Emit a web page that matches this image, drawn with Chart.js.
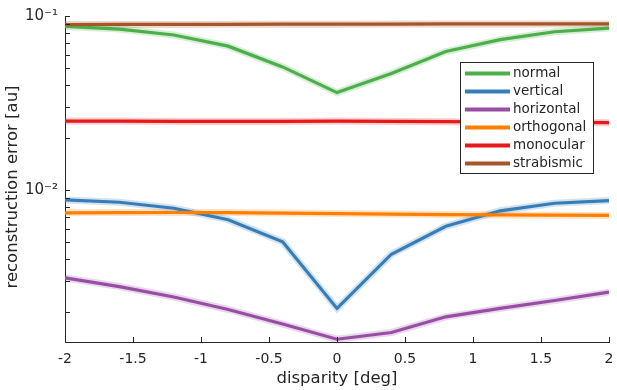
<!DOCTYPE html>
<html>
<head>
<meta charset="utf-8">
<script src="https://cdn.jsdelivr.net/npm/chart.js@4.4.0/dist/chart.umd.min.js"></script>
<style>
  html, body { margin: 0; padding: 0; background: #fff; }
  #wrap { width: 617px; height: 390px; }
</style>
</head>
<body>
<div id="wrap"><canvas id="errChart" width="617" height="390"></canvas></div>
<script>
// x positions (disparity in deg)
const disparity = [-2, -1.6, -1.2, -0.8, -0.4, 0, 0.4, 0.8, 1.2, 1.6, 2];

// reconstruction error per condition
const normal     = [0.0871, 0.0841, 0.0778, 0.0671, 0.0510, 0.0363, 0.0468, 0.0625, 0.0731, 0.0812, 0.0852];
const vertical   = [0.00878, 0.00851, 0.00786, 0.00676, 0.00505, 0.00209, 0.00428, 0.00619, 0.0076, 0.0084, 0.0087];
const horizontal = [0.00313, 0.00279, 0.00243, 0.00206, 0.00170, 0.00139, 0.00152, 0.00187, 0.00209, 0.00232, 0.00259];
const orthogonal = [0.00740, 0.00742, 0.00743, 0.00742, 0.00738, 0.00733, 0.00728, 0.00723, 0.00720, 0.00717, 0.00715];
const monocular  = [0.0249, 0.0249, 0.0248, 0.0248, 0.0248, 0.0249, 0.0248, 0.0247, 0.0246, 0.0245, 0.0244];
const strabismic = [0.0893, 0.0894, 0.0895, 0.0896, 0.0897, 0.0898, 0.0899, 0.0900, 0.0900, 0.0901, 0.0901];

const seriesNames  = ['normal', 'vertical', 'horizontal', 'orthogonal', 'monocular', 'strabismic'];
const seriesValues = [normal, vertical, horizontal, orthogonal, monocular, strabismic];
const seriesColors = ['#4daf4a', '#377eb8', '#984ea3', '#ff7f00', '#e41a1c', '#a65628'];

const xTicks = [-2, -1.5, -1, -0.5, 0, 0.5, 1, 1.5, 2];
const yMinorTicks = [0.002, 0.003, 0.004, 0.005, 0.006, 0.007, 0.008, 0.009,
                     0.02, 0.03, 0.04, 0.05, 0.06, 0.07, 0.08, 0.09];
const yMajorTicks = [0.01, 0.1];
const yMajorLabels = ['10⁻²', '10⁻¹'];
const Y_MIN = 0.00134;
const Y_MAX = 0.1;

const FONT = 'DejaVu Sans';
const INK = '#262626';

function hexToRgba(hex, a) {
  const n = parseInt(hex.slice(1), 16);
  return `rgba(${(n >> 16) & 255}, ${(n >> 8) & 255}, ${n & 255}, ${a})`;
}

// light bands under each line, then the lines themselves
const datasets = [];
seriesValues.forEach((vals, i) => {
  datasets.push({
    label: seriesNames[i] + ' band',
    data: vals.map((v, k) => ({ x: disparity[k], y: v })),
    borderColor: hexToRgba(seriesColors[i], 0.22),
    borderWidth: 7,
    pointRadius: 0,
    tension: 0,
    order: 20
  });
});
seriesValues.forEach((vals, i) => {
  datasets.push({
    label: seriesNames[i],
    data: vals.map((v, k) => ({ x: disparity[k], y: v })),
    borderColor: seriesColors[i],
    borderWidth: 3.2,
    pointRadius: 0,
    tension: 0,
    order: 10 - i
  });
});

// inward tick marks, rotated y title and the boxed legend
const decorations = {
  id: 'decorations',
  afterDraw(chart) {
    const ctx = chart.ctx;
    const xs = chart.scales.x;
    const ys = chart.scales.y;
    const area = chart.chartArea;

    ctx.save();
    ctx.strokeStyle = INK;
    ctx.lineWidth = 1;
    ctx.beginPath();
    ys.ticks.forEach(t => {
      const py = Math.round(ys.getPixelForValue(t.value)) + 0.5;
      ctx.moveTo(area.left, py);
      ctx.lineTo(area.left + 5, py);
    });
    xs.ticks.forEach(t => {
      const px = Math.round(xs.getPixelForValue(t.value)) + 0.5;
      ctx.moveTo(px, area.bottom);
      ctx.lineTo(px, area.bottom - 5);
    });
    ctx.stroke();

    // y axis title
    ctx.fillStyle = INK;
    ctx.font = `16.5px "${FONT}"`;
    ctx.textAlign = 'center';
    ctx.textBaseline = 'middle';
    ctx.translate(13, 187);
    ctx.rotate(-Math.PI / 2);
    ctx.fillText('reconstruction error [au]', 0, 0);
    ctx.restore();

    // legend
    ctx.save();
    const lx = 460, ly = 62, lw = 133, lh = 111;
    ctx.fillStyle = '#fff';
    ctx.fillRect(lx, ly, lw, lh);
    ctx.strokeStyle = INK;
    ctx.lineWidth = 1;
    ctx.strokeRect(lx + 0.5, ly + 0.5, lw, lh);
    ctx.font = `13.5px "${FONT}"`;
    ctx.textAlign = 'left';
    ctx.textBaseline = 'middle';
    seriesNames.forEach((name, i) => {
      const ry = ly + 11.5 + i * 18;
      ctx.strokeStyle = seriesColors[i];
      ctx.lineWidth = 4;
      ctx.beginPath();
      ctx.moveTo(lx + 5, ry);
      ctx.lineTo(lx + 50, ry);
      ctx.stroke();
      ctx.fillStyle = INK;
      ctx.fillText(name, lx + 53, ry);
    });
    ctx.restore();
  }
};

const ctx = document.getElementById('errChart').getContext('2d');
new Chart(ctx, {
  type: 'line',
  data: { datasets },
  plugins: [decorations],
  options: {
    responsive: false,
    animation: false,
    devicePixelRatio: 1,
    layout: { padding: { top: 12, right: 8, left: 0, bottom: 0 } },
    plugins: {
      legend: { display: false },
      tooltip: { enabled: false }
    },
    scales: {
      x: {
        type: 'linear',
        min: -2,
        max: 2,
        afterBuildTicks: s => { s.ticks = xTicks.map(v => ({ value: v })); },
        afterFit: s => { s.height = 48; s.paddingRight = 0; s.paddingLeft = 0; },
        grid: { display: false, drawTicks: false },
        border: { display: true, color: INK, width: 1 },
        ticks: {
          padding: 9,
          color: INK,
          font: { family: FONT, size: 14 },
          maxRotation: 0,
          autoSkip: false,
          callback: v => String(v)
        },
        title: {
          display: true,
          text: 'disparity [deg]',
          color: INK,
          font: { family: FONT, size: 16.5, lineHeight: 1.2 },
          padding: { top: 0, bottom: 1 }
        }
      },
      y: {
        type: 'logarithmic',
        min: Y_MIN,
        max: Y_MAX,
        afterBuildTicks: s => {
          s.ticks = yMinorTicks.concat(yMajorTicks).sort((a, b) => a - b).map(v => ({ value: v }));
        },
        afterFit: s => { s.width = 65; },
        grid: { display: false, drawTicks: false },
        border: { display: true, color: INK, width: 1 },
        ticks: {
          padding: 7,
          color: INK,
          font: { family: FONT, size: 15 },
          autoSkip: false,
          callback: v => {
            const k = yMajorTicks.findIndex(m => Math.abs(m - v) < m * 1e-6);
            return k >= 0 ? yMajorLabels[k] : '';
          }
        }
      }
    }
  }
});
</script>
</body>
</html>
